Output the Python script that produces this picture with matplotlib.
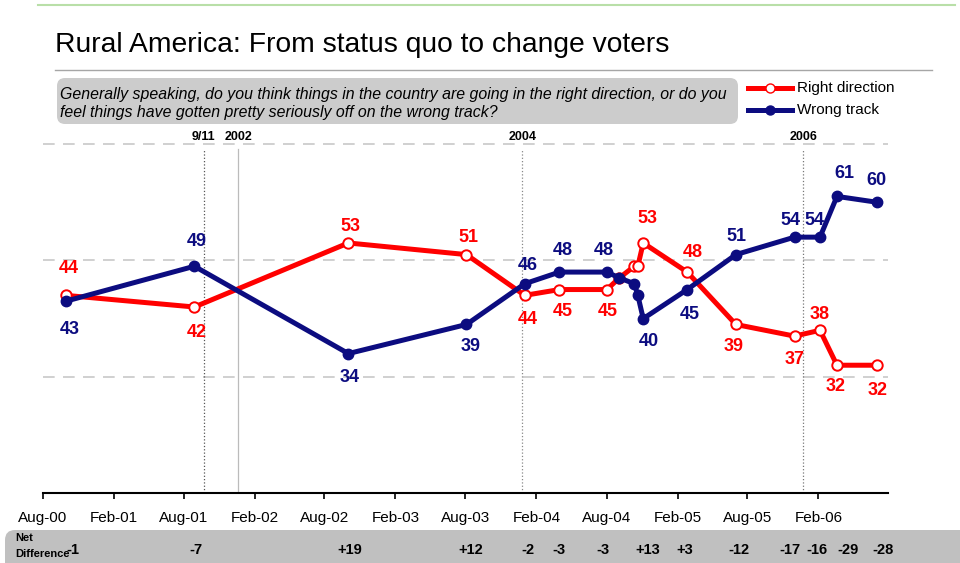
import matplotlib.pyplot as plt
import matplotlib.dates as mdates
import matplotlib.transforms as mtransforms
from matplotlib.lines import Line2D
from matplotlib.patches import FancyBboxPatch
import pandas as pd

plt.rcParams["font.family"] = ["Liberation Sans", "DejaVu Sans"]

# poll dates and shares (%)
poll_dates = ["2000-09-30", "2001-08-29", "2002-10-02", "2003-08-04", "2004-01-02",
              "2004-04-01", "2004-08-02", "2004-09-03", "2004-10-12", "2004-10-21",
              "2004-11-04", "2005-02-26", "2005-07-02", "2005-12-01", "2006-02-05",
              "2006-03-21", "2006-07-02"]
right_direction = [44, 42, 53, 51, 44, 45, 45, 47, 49, 49, 53, 48, 39, 37, 38, 32, 32]
wrong_track = [43, 49, 34, 39, 46, 48, 48, 47, 46, 44, 40, 45, 51, 54, 54, 61, 60]

# which polls get value labels and a net difference
labeled = [0, 1, 2, 3, 4, 5, 6, 10, 11, 12, 13, 14, 15, 16]
net_labels = ["-1", "-7", "+19", "+12", "-2", "-3", "-3", "+13", "+3", "-12",
              "-17", "-16", "-29", "-28"]

# label nudges in pixels (dx, dy; dy positive = down)
red_nudge = [(3, -27), (2, 25), (2, -16.5), (2, -17), (3, 24), (3, 21.5), (1, 21.5),
             (4, -24.5), (6, -20), (-2, 22.5), (0, 23), (0, -16), (-1, 21.5), (1, 25)]
blue_nudge = [(4, 28.5), (2, -25), (1, 24), (4, 22.5), (3, -18.5), (3, -21.7), (-3, -21.7),
              (6, 23), (3, 25), (1, -18), (-4, -16.6), (-6, -16.6), (7, -22.5), (0, -21.6)]
net_nudge = [7, 2, 1, 4, 3, -1, -4, 5, -2, 3, -5, -3, 11, 6]

event_names = ["9/11", "2002", "2004", "2006"]
event_dates = ["2001-09-22", "2001-12-21", "2003-12-27", "2005-12-24"]
event_styles = [":", "-", ":", ":"]
event_colors = ["#555555", "#bbbbbb", "#888888", "#777777"]

tick_dates = pd.date_range("2000-08-01", "2006-02-01", freq="6MS")
tick_labels = [d.strftime("%b-%y") for d in tick_dates]

RED = "#ff0000"
NAVY = "#0c0c80"

dates = pd.to_datetime(poll_dates)
W, H = 960, 563

fig = plt.figure(figsize=(W / 100, H / 100), dpi=100)
ax = fig.add_axes([42.7 / W, (H - 493.3) / H, (888.3 - 42.7) / W, (493.3 - 144) / H])
ax.set_ylim(10, 70)
ax.set_xlim(pd.Timestamp("2000-08-01"), pd.Timestamp("2006-08-01"))

for v in (30, 50, 70):
    ax.axhline(v, color="#c8c8c8", lw=1.2, ls=(0, (7, 5)), zorder=0, clip_on=False)

for name, d, ls, c in zip(event_names, event_dates, event_styles, event_colors):
    x = pd.Timestamp(d)
    ax.axvline(x, ymax=(69.2 - 10) / 60, color=c, lw=0.9, ls=ls, zorder=1)
    ax.text(x, 71.2, name, ha="center", va="center", fontsize=9,
            fontweight="bold", clip_on=False)

ax.plot(dates, right_direction, color=RED, lw=3.6, marker="o", ms=7.5,
        mfc="white", mec=RED, mew=1.4, zorder=3)
ax.plot(dates, wrong_track, color=NAVY, lw=3.6, marker="o", ms=7.5,
        mfc=NAVY, mec=NAVY, zorder=4)

for k, i in enumerate(labeled):
    dx, dy = red_nudge[k]
    ax.annotate(str(right_direction[i]), (dates[i], right_direction[i]),
                xytext=(dx * 0.72, -dy * 0.72), textcoords="offset points",
                ha="center", va="center", fontsize=13, fontweight="bold", color=RED,
                zorder=5)
    dx, dy = blue_nudge[k]
    ax.annotate(str(wrong_track[i]), (dates[i], wrong_track[i]),
                xytext=(dx * 0.72, -dy * 0.72), textcoords="offset points",
                ha="center", va="center", fontsize=13, fontweight="bold", color=NAVY,
                zorder=5)

for s in ("top", "right", "left"):
    ax.spines[s].set_visible(False)
ax.spines["bottom"].set_linewidth(1.5)
ax.set_yticks([])
ax.set_xticks(tick_dates)
ax.set_xticklabels(tick_labels)
ax.tick_params(axis="x", direction="out", length=4, width=1.2, pad=9, labelsize=11)

# title, rule and top line
fig.add_artist(Line2D([38 / W, 955 / W], [(H - 5) / H] * 2, color="#b9dfa8", lw=1.5))
fig.text(55 / W, (H - 45) / H, "Rural America: From status quo to change voters",
         fontsize=20.3, va="center", ha="left")
fig.add_artist(Line2D([55 / W, 932 / W], [(H - 70) / H] * 2, color="#a6a6a6", lw=1))

# question box
fig.add_artist(FancyBboxPatch((0.57, (H - 124) / 100), 6.81, 0.46,
                              boxstyle="round,pad=0,rounding_size=0.08",
                              transform=fig.dpi_scale_trans, fc="#cccccc", ec="none"))
fig.text(60 / W, (H - 94) / H,
         "Generally speaking, do you think things in the country are going in the right direction, or do you",
         fontsize=11.4, style="italic", va="center")
fig.text(60 / W, (H - 113) / H,
         "feel things have gotten pretty seriously off on the wrong track?",
         fontsize=11.4, style="italic", va="center")

# legend
for y, name, color, face in [(88, "Right direction", RED, "white"),
                             (110, "Wrong track", NAVY, NAVY)]:
    fy = (H - y) / H
    fig.add_artist(Line2D([748 / W, 770 / W, 792 / W], [fy] * 3, color=color, lw=3.6,
                          marker="o", ms=6.5, mfc=face, mec=color, markevery=[1]))
    fig.text(797 / W, fy, name, fontsize=11, va="center")

# net difference bar
fig.add_artist(FancyBboxPatch((0.05, -0.3), 10.0, 0.63,
                              boxstyle="round,pad=0,rounding_size=0.1",
                              transform=fig.dpi_scale_trans, fc="#c0c0c0", ec="none"))
fig.text(15 / W, (H - 538) / H, "Net", fontsize=8, fontweight="bold", va="center")
fig.text(15 / W, (H - 554) / H, "Difference", fontsize=8, fontweight="bold", va="center")
trans = mtransforms.blended_transform_factory(ax.transData, fig.transFigure)
for k, i in enumerate(labeled):
    t = mtransforms.offset_copy(trans, fig=fig, x=net_nudge[k] * 0.72, units="points")
    fig.text(mdates.date2num(dates[i]), (H - 550) / H, net_labels[k], transform=t,
             ha="center", va="center", fontsize=10.5, fontweight="bold")

fig.savefig("out.png", dpi=100)
